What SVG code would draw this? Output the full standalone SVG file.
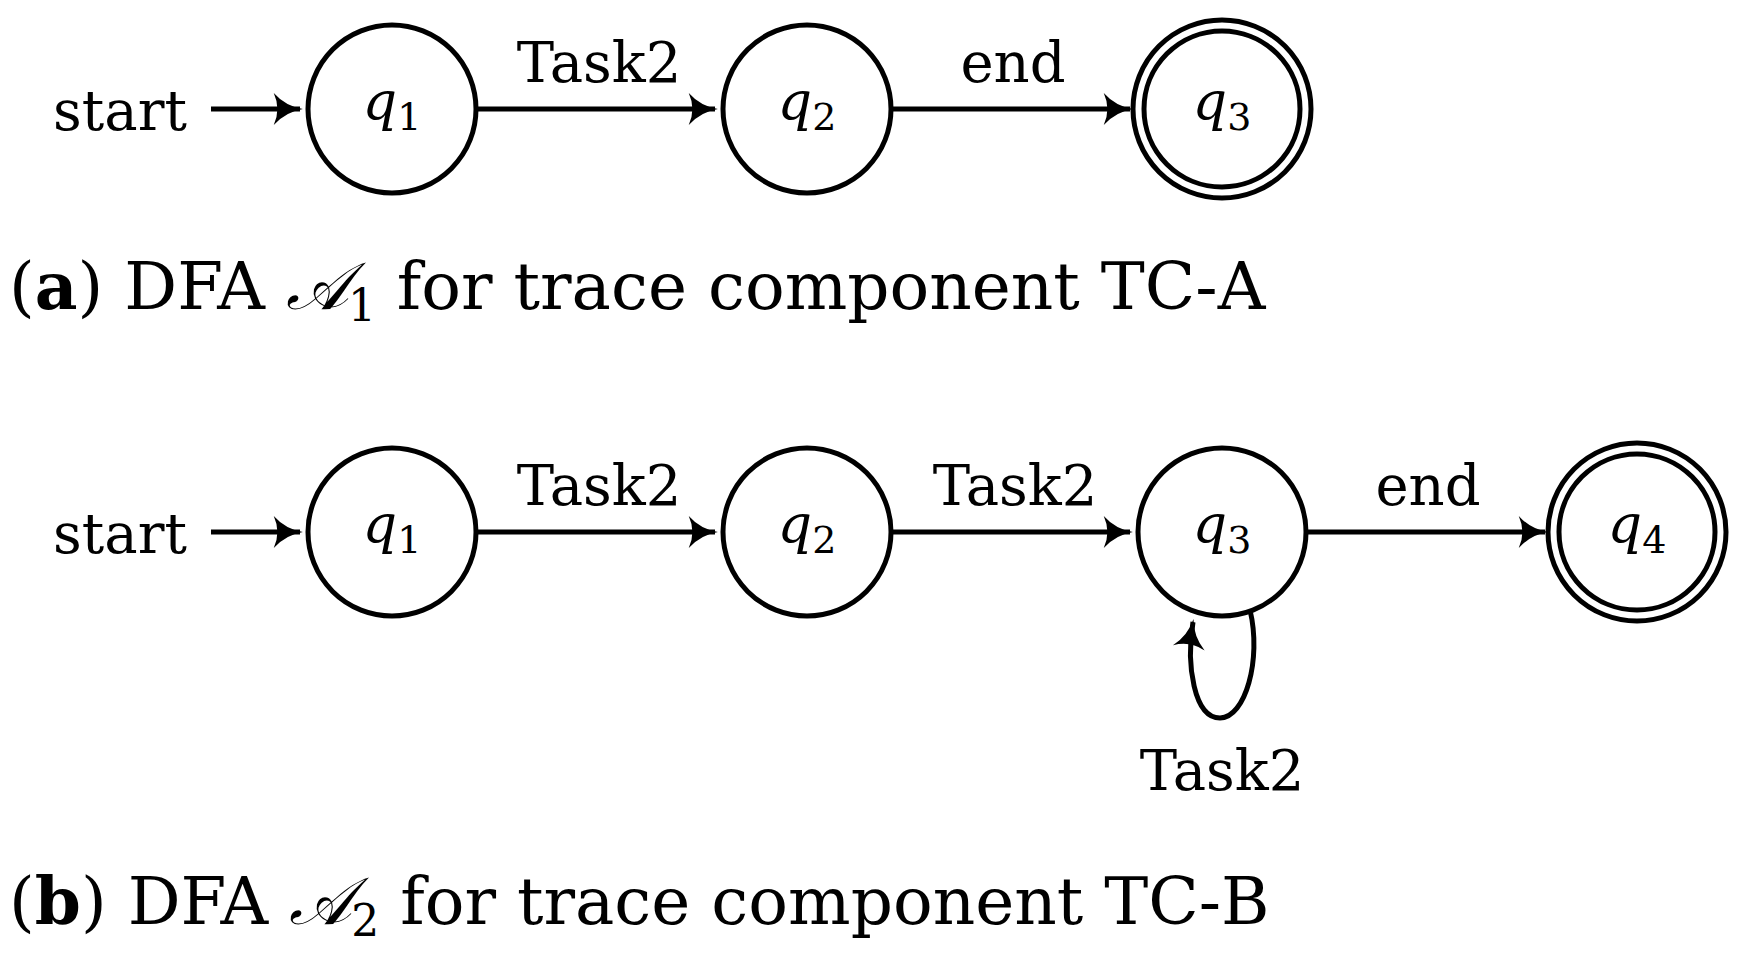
<svg xmlns="http://www.w3.org/2000/svg" width="1737" height="966" viewBox="0 0 1737 966">
<style>
.s{fill:#fff;stroke:#000;stroke-width:5}
.t{font-family:"DejaVu Serif",serif;font-size:56px;fill:#000}
.q{font-family:"DejaVu Serif",serif;font-size:54px;font-style:italic;fill:#000}
.sub{font-style:normal;font-size:38px}
.c{font-family:"DejaVu Serif",serif;font-size:66px;fill:#000}
.e{fill:none;stroke:#000;stroke-width:5}
</style>
<defs><marker id="a" viewBox="0 0 12 12" refX="10" refY="6" markerWidth="7" markerHeight="7" orient="auto" markerUnits="strokeWidth"><path d="M1,0.5 Q5,5 11,6 Q5,7 1,11.5 Q3.5,6 1,0.5Z" fill="#000"/></marker></defs>
<g id="edges">
<path class="e" marker-end="url(#a)" d="M211,109H300"/>
<path class="e" marker-end="url(#a)" d="M476,109H715"/>
<path class="e" marker-end="url(#a)" d="M891,109H1130"/>
<path class="e" marker-end="url(#a)" d="M211,532H300"/>
<path class="e" marker-end="url(#a)" d="M476,532H715"/>
<path class="e" marker-end="url(#a)" d="M891,532H1130"/>
<path class="e" marker-end="url(#a)" d="M1306,532H1545"/>
<path class="e" marker-end="url(#a)" d="M1250,610C1262,660 1245,718 1220,718C1194,718 1186,665 1193,622"/>
</g>
<text class="t" x="53" y="130">start</text>
<text class="t" x="599" y="82" text-anchor="middle">Task2</text>
<text class="t" x="1013" y="82" text-anchor="middle">end</text>
<text class="t" x="53" y="553">start</text>
<text class="t" x="599" y="505" text-anchor="middle">Task2</text>
<text class="t" x="1015" y="505" text-anchor="middle">Task2</text>
<text class="t" x="1428" y="505" text-anchor="middle">end</text>
<text class="t" x="1222" y="790" text-anchor="middle">Task2</text>
<g id="a1"><circle class="s" cx="392" cy="109" r="84"/><text class="q" x="392" y="120" text-anchor="middle">q<tspan class="sub" dy="10">1</tspan></text></g>
<g id="a2"><circle class="s" cx="807" cy="109" r="84"/><text class="q" x="807" y="120" text-anchor="middle">q<tspan class="sub" dy="10">2</tspan></text></g>
<g id="a3"><circle class="s" cx="1222" cy="109" r="89"/><circle class="s" cx="1222" cy="109" r="78"/><text class="q" x="1222" y="120" text-anchor="middle">q<tspan class="sub" dy="10">3</tspan></text></g>
<g id="b1"><circle class="s" cx="392" cy="532" r="84"/><text class="q" x="392" y="543" text-anchor="middle">q<tspan class="sub" dy="10">1</tspan></text></g>
<g id="b2"><circle class="s" cx="807" cy="532" r="84"/><text class="q" x="807" y="543" text-anchor="middle">q<tspan class="sub" dy="10">2</tspan></text></g>
<g id="b3"><circle class="s" cx="1222" cy="532" r="84"/><text class="q" x="1222" y="543" text-anchor="middle">q<tspan class="sub" dy="10">3</tspan></text></g>
<g id="b4"><circle class="s" cx="1637" cy="532" r="89"/><circle class="s" cx="1637" cy="532" r="78"/><text class="q" x="1637" y="543" text-anchor="middle">q<tspan class="sub" dy="10">4</tspan></text></g>
<text class="c" x="9" y="309">(<tspan font-weight="bold">a</tspan>) DFA <tspan font-style="italic">𝒜</tspan><tspan font-size="44" dy="12">1</tspan><tspan dy="-12"> for trace component TC-A</tspan></text>
<text class="c" x="9" y="924">(<tspan font-weight="bold">b</tspan>) DFA <tspan font-style="italic">𝒜</tspan><tspan font-size="44" dy="12">2</tspan><tspan dy="-12"> for trace component TC-B</tspan></text>
</svg>
